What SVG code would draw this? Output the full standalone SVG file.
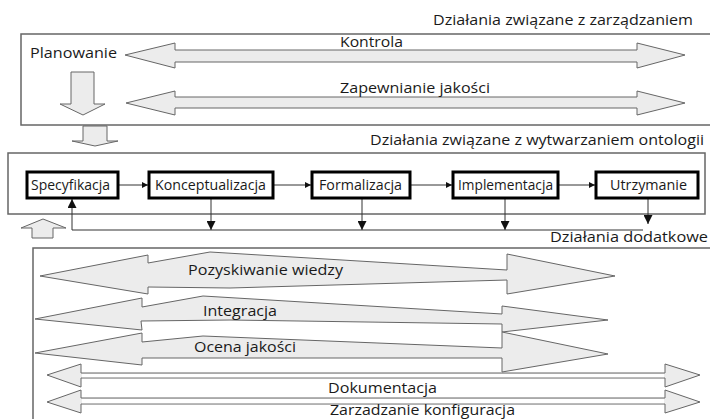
<svg xmlns="http://www.w3.org/2000/svg" width="710" height="419" viewBox="0 0 710 419">
<style>
text{font-family:"Open Sans","Noto Sans","DejaVu Sans",sans-serif;fill:#1a1a1a;font-size:15px}
.t14{font-size:14px}
.frame{fill:#fff;stroke:#666;stroke-width:1.5}
.arr{fill:#ececec;stroke:#666;stroke-width:1;stroke-linejoin:miter}
.proc{fill:#fff;stroke:#000;stroke-width:3}
.con{fill:none;stroke:#333;stroke-width:1}
</style>
<defs>
<marker id="ah" viewBox="0 0 10 10" refX="10" refY="5" markerWidth="6" markerHeight="6" markerUnits="userSpaceOnUse" orient="auto">
<path d="M0,0 L10,5 L0,10 z" fill="#111"/>
</marker>
<marker id="ah2" viewBox="0 0 10 10" refX="10" refY="5" markerWidth="9" markerHeight="9" markerUnits="userSpaceOnUse" orient="auto">
<path d="M0,0 L10,5 L0,10 z" fill="#111"/>
</marker>
</defs>
<rect width="710" height="419" fill="#fff"/>

<g id="management">
<rect class="frame" x="21" y="34" width="700" height="91"/>
<text x="433" y="25" textLength="260" lengthAdjust="spacingAndGlyphs">Działania związane z zarządzaniem</text>
</g>
<g id="planowanie">
<text x="30" y="58" textLength="87" lengthAdjust="spacingAndGlyphs">Planowanie</text>
<polygon class="arr" points="71,72 94,72 94,104 105,104 83,115 60,104 71,104"/>
</g>
<g id="kontrola">
<polygon class="arr" points="125,55 175,43 175,50 637,50 637,43 685,55 637,68 637,62 175,62 175,68"/>
<text x="340" y="47" textLength="63" lengthAdjust="spacingAndGlyphs">Kontrola</text>
</g>
<g id="zapewnianie">
<polygon class="arr" points="126,103 175,91 175,97 637,97 637,91 685,103 637,115 637,108 175,108 175,115"/>
<text x="340" y="93" textLength="150" lengthAdjust="spacingAndGlyphs">Zapewnianie jakości</text>
</g>
<g id="down-arrow">
<polygon class="arr" points="83,126 107,126 107,141 118,141 95,146 72,141 83,141"/>
</g>

<g id="development">
<rect class="frame" x="8" y="153" width="697" height="61"/>
<text x="370" y="145" textLength="334" lengthAdjust="spacingAndGlyphs">Działania związane z wytwarzaniem ontologii</text>
</g>
<g id="up-arrow">
<polygon class="arr" points="43,219 66,228 53,228 53,238 32,238 32,228 21,228"/>
</g>

<g id="support">
<rect class="frame" x="33" y="248" width="690" height="190"/>
<text x="550" y="242" textLength="158" lengthAdjust="spacingAndGlyphs">Działania dodatkowe</text>
</g>
<g id="pozyskiwanie">
<polygon class="arr" points="40,276 148,255 148,263 210,252 507,270 507,254 615,276 507,294 507,280 230,288 148,287 148,294"/>
<text x="188" y="275" textLength="155" lengthAdjust="spacingAndGlyphs">Pozyskiwanie wiedzy</text>
</g>
<g id="integracja">
<polygon class="arr" points="35,319 142,298 142,307 203,296 502,314 502,306 608,320 502,332 502,324 230,320 141,321 142,330"/>
<text x="203" y="316" textLength="74" lengthAdjust="spacingAndGlyphs">Integracja</text>
</g>
<g id="ocena">
<polygon class="arr" points="35,353 142,333 142,342 203,336 502,348 502,332 608,354 502,372 502,358 142,358 142,365"/>
<text x="194" y="352" textLength="102" lengthAdjust="spacingAndGlyphs">Ocena jakości</text>
</g>
<g id="dokumentacja">
<polygon class="arr" points="47,375 81,364 81,373 665,373 665,364 700,375 665,387 665,378 81,378 81,387"/>
<rect x="82" y="374" width="582" height="3.2" fill="#fff"/>
<text x="328" y="393" textLength="109" lengthAdjust="spacingAndGlyphs">Dokumentacja</text>
</g>
<g id="konfiguracja">
<polygon class="arr" points="47,402 81,390 81,398 665,398 665,390 700,402 665,413 665,404 81,404 81,413"/>
<rect x="82" y="399" width="582" height="4.2" fill="#fff"/>
<text x="330" y="415" textLength="185" lengthAdjust="spacingAndGlyphs">Zarzadzanie konfiguracja</text>
</g>

<g id="connectors">
<line class="con" x1="119" y1="185" x2="148" y2="185" marker-end="url(#ah)"/>
<line class="con" x1="274" y1="185" x2="311" y2="185" stroke="#777" marker-end="url(#ah)"/>
<line class="con" x1="411" y1="185" x2="452" y2="185" marker-end="url(#ah)"/>
<line class="con" x1="559" y1="185" x2="595" y2="185" marker-end="url(#ah)"/>
<line class="con" x1="211" y1="199" x2="211" y2="230" marker-end="url(#ah2)"/>
<line class="con" x1="362" y1="199" x2="362" y2="230" marker-end="url(#ah2)"/>
<line class="con" x1="505" y1="199" x2="505" y2="230" marker-end="url(#ah2)"/>
<line class="con" x1="648" y1="199" x2="648" y2="224" marker-end="url(#ah2)"/>
<polyline class="con" points="643,230 72,230 72,199" marker-end="url(#ah2)"/>
</g>

<g id="specyfikacja">
<rect class="proc" x="27" y="172" width="91" height="26"/>
<text class="t14" x="31" y="190" textLength="79" lengthAdjust="spacingAndGlyphs">Specyfikacja</text>
</g>
<g id="konceptualizacja">
<rect class="proc" x="149" y="172" width="124" height="26"/>
<text class="t14" x="155" y="190" textLength="111" lengthAdjust="spacingAndGlyphs">Konceptualizacja</text>
</g>
<g id="formalizacja">
<rect class="proc" x="312" y="172" width="98" height="26"/>
<text class="t14" x="319" y="190" textLength="83" lengthAdjust="spacingAndGlyphs">Formalizacja</text>
</g>
<g id="implementacja">
<rect class="proc" x="453" y="172" width="105" height="26"/>
<text class="t14" x="458" y="190" textLength="95" lengthAdjust="spacingAndGlyphs">Implementacja</text>
</g>
<g id="utrzymanie">
<rect class="proc" x="596" y="172" width="102" height="26"/>
<text class="t14" x="610" y="190" textLength="77" lengthAdjust="spacingAndGlyphs">Utrzymanie</text>
</g>
</svg>
